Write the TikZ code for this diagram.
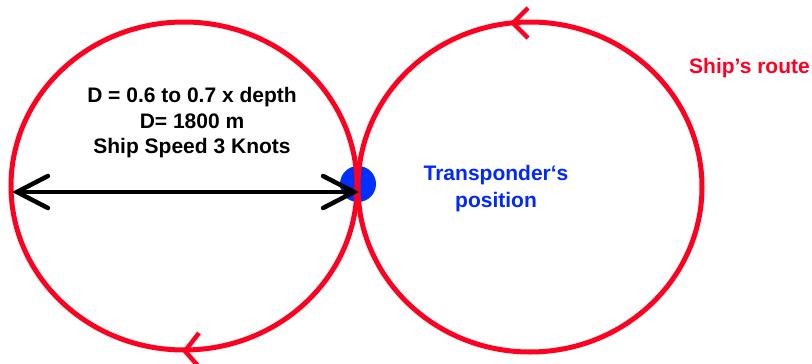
\documentclass[tikz,border=0pt]{standalone}
\usepackage{fontspec}
\setmainfont{Liberation Sans}
\usetikzlibrary{arrows.meta}
\definecolor{routered}{RGB}{255,0,32}
\definecolor{tpblue}{RGB}{0,40,255}
\definecolor{dotblue}{RGB}{0,48,255}
\begin{document}
\begin{tikzpicture}[x=1pt,y=-1pt,
  route/.style={draw=routered,line width=5pt},
  chev/.style={draw=routered,line width=4.5pt,line join=miter},
  lbl/.style={font=\bfseries\fontsize{21}{25}\selectfont,inner sep=0pt,anchor=base},
  barb/.style={line width=4.5pt,{Straight Barb[length=31pt,width=32pt,line cap=round]}-{Straight Barb[length=31pt,width=32pt,line cap=round]}}]
\useasboundingbox (0,0) rectangle (812,364);
% transponder dot
\node[circle,fill=dotblue,minimum size=36pt,inner sep=0pt] (dot) at (358,184) {};
% routes
\draw[route] (184,186) ellipse [x radius=173pt, y radius=164pt];
\draw[route] (530,187) ellipse [x radius=172pt, y radius=165pt];
% direction marks
\draw[chev] (528,8) -- (513,23) -- (528,38);
\draw[chev] (199,333) -- (185,351) -- (199,367);
% diameter arrow
\coordinate (Lend) at (12,192);
\coordinate (Rend) at (359,192);
\draw[barb] (Lend) -- (Rend);
% texts
\node[lbl] (t1) at (192,102) {D = 0.6 to 0.7 x depth};
\node[lbl] (t2) at (192,128) {D= 1800 m};
\node[lbl] (t3) at (192,153) {Ship Speed 3 Knots};
\node[lbl,text=tpblue] (tp1) at (496,180) {Transponder‘s};
\node[lbl,text=tpblue] (tp2) at (496,207) {position};
\node[lbl,text=routered,anchor=base west] (route) at (689,73) {Ship’s route};
\end{tikzpicture}
\end{document}
